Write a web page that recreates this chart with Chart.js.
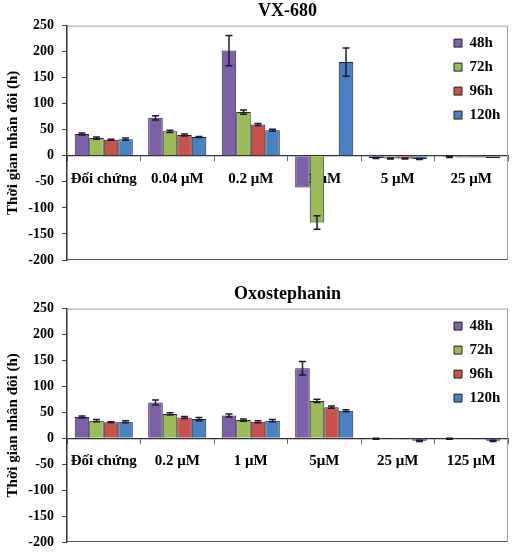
<!DOCTYPE html>
<html>
<head>
<meta charset="utf-8">
<script src="https://cdn.jsdelivr.net/npm/chart.js@4.4.0/dist/chart.umd.min.js"></script>
<style>
  body { margin: 0; background: #fff; }
  .panel { position: relative; width: 520px; height: 280px; }
</style>
</head>
<body>
<div class="panel"><canvas id="vxChart"></canvas></div>
<div class="panel"><canvas id="oxoChart"></canvas></div>
<script>
// series shared by both panels
const seriesLabels = ["48h", "72h", "96h", "120h"];
const seriesColors = ["#7E60A8", "#9BBB59", "#C8504D", "#4A80C4"];
const yMin = -200;
const yMax = 250;
const yStep = 50;
const yTitle = "Thời gian nhân đôi (h)";

// VX-680
const vxCategories = ["Đối chứng", "0.04 μM", "0.2 μM", "1 μM", "5 μM", "25 μM"];
const vx48 = [42, 73, 202, -61, -4, -2];
const vx72 = [34, 47, 84, -128, -5, -3];
const vx96 = [31, 40, 60, 0, -5, -3];
const vx120 = [32, 36, 49, 180, -6, -4];
const vx48Err = [2, 4, 29, 0, 1, 1];
const vx72Err = [2, 2, 4, 13, 1, 0];
const vx96Err = [1, 2, 2, 0, 1, 0];
const vx120Err = [2, 1, 2, 27, 1, 0];

// Oxostephanin
const oxoCategories = ["Đối chứng", "0.2 μM", "1 μM", "5μM", "25 μM", "125 μM"];
const oxo48 = [41, 69, 44, 135, -1, -1];
const oxo72 = [34, 47, 35, 72, -1, -1];
const oxo96 = [31, 40, 32, 60, -2, -2];
const oxo120 = [32, 37, 34, 53, -5, -5];
const oxo48Err = [2, 5, 3, 13, 1, 1];
const oxo72Err = [2, 2, 2, 3, 0, 0];
const oxo96Err = [1, 2, 2, 2, 0, 0];
const oxo120Err = [2, 3, 2, 2, 1, 1];

const serif = "'Liberation Serif', 'Times New Roman', serif";

// error bars drawn from the dataset values through the y scale
const errorBars = {
  id: "errorBars",
  afterDatasetsDraw(chart) {
    const ctx = chart.ctx;
    const y = chart.scales.y;
    ctx.save();
    ctx.strokeStyle = "#1b1b33";
    ctx.lineWidth = 1.5;
    chart.data.datasets.forEach((ds, i) => {
      const meta = chart.getDatasetMeta(i);
      meta.data.forEach((bar, j) => {
        const err = ds.errors[j];
        if (!err) return;
        const v = ds.data[j];
        const hi = y.getPixelForValue(v + err);
        const lo = y.getPixelForValue(v - err);
        const cap = 3.5;
        ctx.beginPath();
        ctx.moveTo(bar.x, hi); ctx.lineTo(bar.x, lo);
        ctx.moveTo(bar.x - cap, hi); ctx.lineTo(bar.x + cap, hi);
        ctx.moveTo(bar.x - cap, lo); ctx.lineTo(bar.x + cap, lo);
        ctx.stroke();
      });
    });
    ctx.restore();
  }
};

// thin frame round the plot area
const plotFrame = {
  id: "plotFrame",
  beforeDatasetsDraw(chart) {
    const a = chart.chartArea;
    const ctx = chart.ctx;
    ctx.save();
    ctx.lineWidth = 1;
    ctx.beginPath();
    ctx.strokeStyle = "#a0a0a0";
    ctx.moveTo(a.left, a.top + 0.5); ctx.lineTo(a.right - 0.5, a.top + 0.5);
    ctx.lineTo(a.right - 0.5, a.bottom - 0.5);
    ctx.stroke();
    ctx.beginPath();
    ctx.strokeStyle = "#555";
    ctx.moveTo(a.left, a.bottom - 0.5); ctx.lineTo(a.right - 0.5, a.bottom - 0.5);
    ctx.stroke();
    ctx.restore();
  }
};

// legend sits inside the plot, top right
const legendInside = {
  id: "legendInside",
  afterLayout(chart) {
    const lg = chart.legend;
    const a = chart.chartArea;
    lg.left = 445;
    lg.right = lg.left + lg.width;
    lg.top = a.top + 1;
    lg.bottom = lg.top + lg.height;
  }
};

function makeChart(id, title, categories, values, errors, pad) {
  return new Chart(document.getElementById(id), {
    type: "bar",
    data: {
      labels: categories,
      datasets: seriesLabels.map((label, i) => ({
        label: label,
        data: values[i],
        errors: errors[i],
        backgroundColor: seriesColors[i],
        borderColor: "#222",
        borderWidth: 1,
        barPercentage: 1,
        categoryPercentage: 0.79
      }))
    },
    options: {
      responsive: true,
      maintainAspectRatio: false,
      animation: false,
      layout: { padding: { left: 0, right: 12, top: 0, bottom: pad.bottom } },
      plugins: {
        title: {
          display: true,
          text: title,
          fullSize: false,
          color: "#000",
          font: { family: serif, size: 18, weight: "bold" },
          padding: { top: pad.titleTop, bottom: pad.titleBottom }
        },
        legend: {
          position: "chartArea",
          align: "start",
          labels: {
            color: "#000",
            font: { family: serif, size: 15, weight: "bold" },
            boxWidth: 8,
            boxHeight: 8,
            padding: 9
          }
        },
        tooltip: { enabled: false }
      },
      scales: {
        x: {
          position: { y: 0 },
          afterFit: s => { s.height = 0; },
          grid: { drawOnChartArea: false, tickLength: 5, color: "#666" },
          border: { color: "#333", width: 1.2 },
          ticks: {
            color: "#000",
            font: { family: serif, size: 15, weight: "bold" },
            padding: 9,
            autoSkip: false,
            maxRotation: 0
          }
        },
        y: {
          min: yMin,
          max: yMax,
          afterFit: s => { s.width = 67; },
          grid: { drawOnChartArea: false, tickLength: 5, color: "#444" },
          border: { color: "#333", width: 1.5 },
          ticks: {
            stepSize: yStep,
            color: "#000",
            font: { family: serif, size: 14, weight: "bold" },
            padding: 8
          },
          title: {
            display: true,
            text: yTitle,
            color: "#000",
            font: { family: serif, size: 15, weight: "bold" },
            padding: { top: 4, bottom: 0 }
          }
        }
      }
    },
    plugins: [errorBars, plotFrame, legendInside]
  });
}

makeChart("vxChart", "VX-680", vxCategories,
  [vx48, vx72, vx96, vx120], [vx48Err, vx72Err, vx96Err, vx120Err],
  { bottom: 20, titleTop: 1, titleBottom: 3 });

makeChart("oxoChart", "Oxostephanin", oxoCategories,
  [oxo48, oxo72, oxo96, oxo120], [oxo48Err, oxo72Err, oxo96Err, oxo120Err],
  { bottom: 18, titleTop: 4, titleBottom: 3 });
</script>
</body>
</html>
